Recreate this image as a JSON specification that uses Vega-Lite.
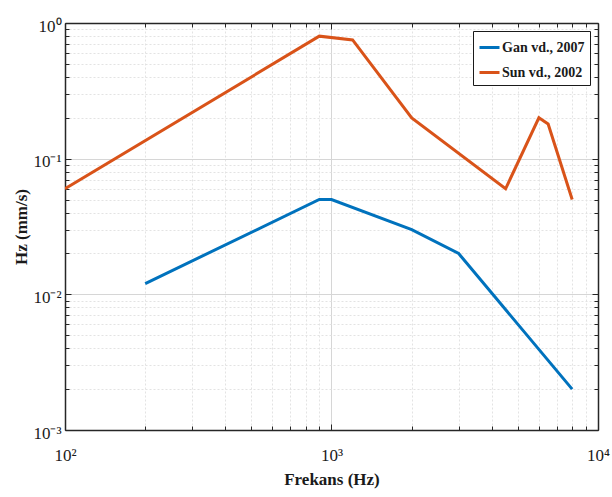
{
  "$schema": "https://vega.github.io/schema/vega-lite/v6.json",
  "width": 533,
  "height": 407,
  "autosize": "none",
  "padding": {"left": 65, "top": 23, "right": 14, "bottom": 67},
  "background": "white",
  "config": {
    "font": "Liberation Serif",
    "view": {"stroke": null},
    "axis": {
      "domainColor": "#262626",
      "domainWidth": 1.5,
      "tickColor": "#262626",
      "labelFont": "Liberation Serif",
      "labelColor": "#1a1a1a",
      "labelOverlap": false,
      "labelFlush": false,
      "titleFont": "Liberation Serif",
      "titleFontWeight": "bold",
      "titleColor": "#1a1a1a"
    }
  },
  "data": {
    "values": [
      {"study": "Gan vd., 2007", "freq": 200, "v": 0.012},
      {"study": "Gan vd., 2007", "freq": 900, "v": 0.05},
      {"study": "Gan vd., 2007", "freq": 1000, "v": 0.05},
      {"study": "Gan vd., 2007", "freq": 2000, "v": 0.03},
      {"study": "Gan vd., 2007", "freq": 3000, "v": 0.02},
      {"study": "Gan vd., 2007", "freq": 8000, "v": 0.002},
      {"study": "Sun vd., 2002", "freq": 100, "v": 0.06},
      {"study": "Sun vd., 2002", "freq": 900, "v": 0.8},
      {"study": "Sun vd., 2002", "freq": 1200, "v": 0.75},
      {"study": "Sun vd., 2002", "freq": 2000, "v": 0.2},
      {"study": "Sun vd., 2002", "freq": 4500, "v": 0.06},
      {"study": "Sun vd., 2002", "freq": 6000, "v": 0.2},
      {"study": "Sun vd., 2002", "freq": 6500, "v": 0.18},
      {"study": "Sun vd., 2002", "freq": 8000, "v": 0.05}
    ]
  },
  "layer": [
    {
      "mark": {"type": "line", "strokeWidth": 3, "clip": true},
      "encoding": {
        "x": {
          "field": "freq",
          "type": "quantitative",
          "scale": {"type": "log", "domain": [100, 10000], "nice": false},
          "axis": {
            "orient": "bottom",
            "title": "Frekans (Hz)",
            "titleFontSize": 17,
            "titlePadding": 6,
            "values": [100, 200, 300, 400, 500, 600, 700, 800, 900, 1000, 2000, 3000, 4000, 5000, 6000, 7000, 8000, 9000, 10000],
            "labelExpr": "datum.value == 100 ? '10²' : datum.value == 1000 ? '10³' : datum.value == 10000 ? '10⁴' : ''",
            "labelFontSize": 17,
            "labelPadding": 23,
            "tickSize": {"condition": {"test": "datum.value == 100 || datum.value == 1000 || datum.value == 10000", "value": -6}, "value": -4},
            "grid": true,
            "gridColor": {"condition": {"test": "datum.value == 100 || datum.value == 1000 || datum.value == 10000", "value": "#d6d6d6"}, "value": "#e3e3e3"},
            "gridDash": {"condition": {"test": "datum.value == 100 || datum.value == 1000 || datum.value == 10000", "value": []}, "value": [2, 2]},
            "gridWidth": 1
          }
        },
        "y": {
          "field": "v",
          "type": "quantitative",
          "scale": {"type": "log", "domain": [0.001, 1], "nice": false},
          "axis": {
            "orient": "left",
            "title": "Hz (mm/s)",
            "titleFontSize": 17,
            "titlePadding": 2,
            "values": [0.001, 0.002, 0.003, 0.004, 0.005, 0.006, 0.007, 0.008, 0.009, 0.01, 0.02, 0.03, 0.04, 0.05, 0.06, 0.07, 0.08, 0.09, 0.1, 0.2, 0.3, 0.4, 0.5, 0.6, 0.7, 0.8, 0.9, 1],
            "labelExpr": "datum.value == 1 ? '10⁰' : datum.value == 0.1 ? '10⁻¹' : datum.value == 0.01 ? '10⁻²' : datum.value == 0.001 ? '10⁻³' : ''",
            "labelFontSize": 17,
            "labelPadding": 10,
            "labelOffset": 3,
            "tickSize": {"condition": {"test": "datum.value == 1 || datum.value == 0.1 || datum.value == 0.01 || datum.value == 0.001", "value": -6}, "value": -4},
            "grid": true,
            "gridColor": {"condition": {"test": "datum.value == 1 || datum.value == 0.1 || datum.value == 0.01 || datum.value == 0.001", "value": "#d6d6d6"}, "value": "#e3e3e3"},
            "gridDash": {"condition": {"test": "datum.value == 1 || datum.value == 0.1 || datum.value == 0.01 || datum.value == 0.001", "value": []}, "value": [2, 2]},
            "gridWidth": 1
          }
        },
        "color": {
          "field": "study",
          "type": "nominal",
          "scale": {"domain": ["Gan vd., 2007", "Sun vd., 2002"], "range": ["#0072BD", "#D95319"]},
          "legend": {
            "title": null,
            "orient": "top-right",
            "offset": 8,
            "fillColor": "white",
            "strokeColor": "#1a1a1a",
            "padding": 5,
            "symbolType": "stroke",
            "symbolStrokeWidth": 3,
            "symbolSize": 400,
            "labelFont": "Liberation Serif",
            "labelFontWeight": "bold",
            "labelFontSize": 14,
            "labelColor": "#1a1a1a",
            "rowPadding": 6,
            "labelOffset": 1
          }
        }
      }
    },
    {
      "mark": {"type": "line", "opacity": 0},
      "encoding": {
        "x": {
          "field": "freq",
          "type": "quantitative",
          "scale": {"type": "log", "domain": [100, 10000], "nice": false},
          "axis": {
            "orient": "top",
            "title": null,
            "labels": false,
            "grid": false,
            "values": [100, 200, 300, 400, 500, 600, 700, 800, 900, 1000, 2000, 3000, 4000, 5000, 6000, 7000, 8000, 9000, 10000],
            "tickSize": {"condition": {"test": "datum.value == 100 || datum.value == 1000 || datum.value == 10000", "value": -6}, "value": -4}
          }
        },
        "y": {
          "field": "v",
          "type": "quantitative",
          "scale": {"type": "log", "domain": [0.001, 1], "nice": false},
          "axis": {
            "orient": "right",
            "title": null,
            "labels": false,
            "grid": false,
            "values": [0.001, 0.002, 0.003, 0.004, 0.005, 0.006, 0.007, 0.008, 0.009, 0.01, 0.02, 0.03, 0.04, 0.05, 0.06, 0.07, 0.08, 0.09, 0.1, 0.2, 0.3, 0.4, 0.5, 0.6, 0.7, 0.8, 0.9, 1],
            "tickSize": {"condition": {"test": "datum.value == 1 || datum.value == 0.1 || datum.value == 0.01 || datum.value == 0.001", "value": -6}, "value": -4}
          }
        }
      }
    }
  ],
  "resolve": {"axis": {"x": "independent", "y": "independent"}}
}
